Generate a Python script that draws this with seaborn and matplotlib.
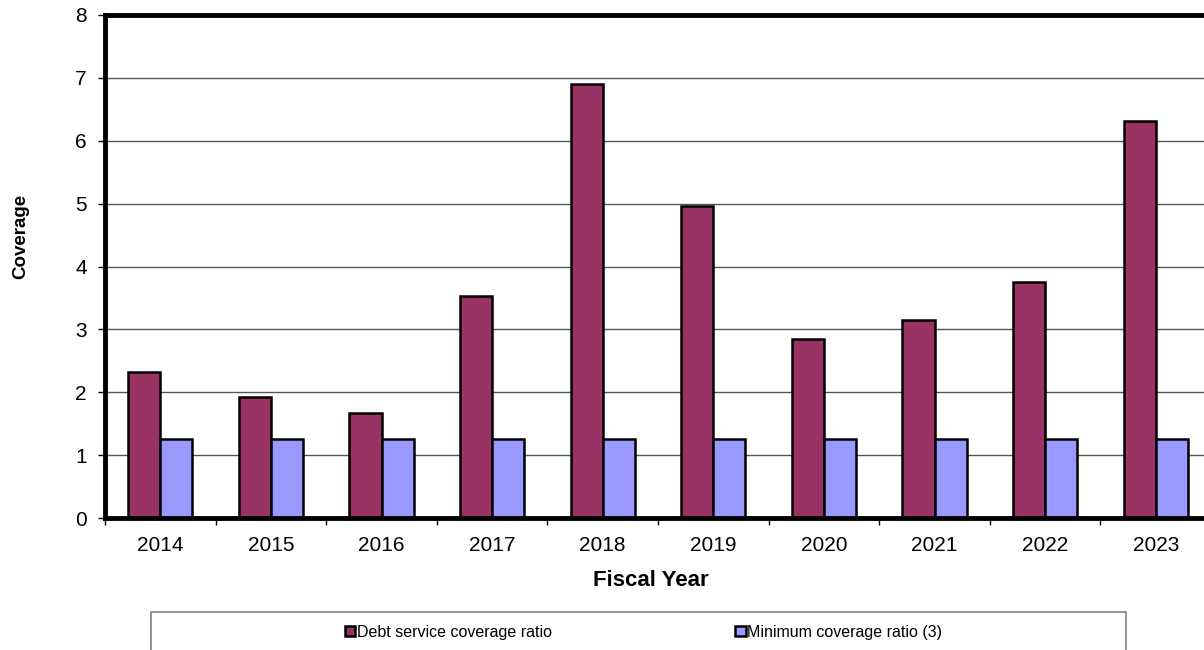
import numpy as np
import pandas as pd
import matplotlib
matplotlib.use("Agg")
import matplotlib.pyplot as plt
import seaborn as sns
from matplotlib.patches import Rectangle

years = ["2014", "2015", "2016", "2017", "2018", "2019", "2020", "2021", "2022", "2023"]
debt_service = [2.32, 1.92, 1.67, 3.53, 6.90, 4.96, 2.85, 3.15, 3.75, 6.31]
min_coverage = [1.25, 1.25, 1.25, 1.25, 1.25, 1.25, 1.25, 1.25, 1.25, 1.25]
series_names = ["Debt service coverage ratio", "Minimum coverage ratio (3)"]
colors = ["#993366", "#9999FF"]

df = pd.DataFrame({
    "year": years * 2,
    "value": debt_service + min_coverage,
    "series": [series_names[0]] * len(years) + [series_names[1]] * len(years),
})

sns.set_style("white")
plt.rcParams["font.family"] = ["Liberation Sans", "DejaVu Sans"]
plt.rcParams["text.color"] = "black"
plt.rcParams["xtick.color"] = "black"
plt.rcParams["ytick.color"] = "black"
plt.rcParams["axes.labelcolor"] = "black"

W, H = 1204, 650
fig = plt.figure(figsize=(W / 100, H / 100), dpi=100)
ax = fig.add_axes([105 / W, 1 - 518 / H, 1106 / W, 503 / H])

sns.barplot(data=df, x="year", y="value", hue="series", palette=colors,
            width=0.58, edgecolor="black", linewidth=1.8, saturation=1,
            ax=ax, legend=True)

ax.set_xlim(-0.5, len(years) - 0.5)
ax.set_ylim(0, 8)
ax.set_yticks(range(0, 9))
ax.set_axisbelow(True)
ax.yaxis.grid(True, color="#555555", linewidth=1)
ax.xaxis.grid(False)

for side in ["left", "top", "bottom", "right"]:
    ax.spines[side].set_visible(True)
    ax.spines[side].set_color("black")
    ax.spines[side].set_linewidth(3.5)

ax.tick_params(axis="y", which="major", left=True, length=5, width=1,
               pad=8, labelsize=15, color="black", labelcolor="black")
ax.tick_params(axis="x", which="major", bottom=True, length=0, pad=13,
               labelsize=15, labelcolor="black")
ax.set_xticks(np.arange(-0.5, len(years), 1.0), minor=True)
ax.tick_params(axis="x", which="minor", bottom=True, length=5, width=1, color="black")

ax.set_xlabel("")
ax.set_ylabel("")
fig.text(651 / W, 1 - 580 / H, "Fiscal Year", ha="center", va="center",
         fontsize=16, fontweight="bold", color="black")
fig.text(21 / W, 1 - 236 / H, "Coverage", ha="center", va="center",
         rotation=90, fontsize=13.5, fontweight="bold", color="black")

handles, labels = ax.get_legend_handles_labels()
ax.get_legend().remove()
leg = fig.legend(handles, labels, loc="center", bbox_to_anchor=(643.5 / W, 1 - 632 / H),
                 frameon=False, ncol=2, fontsize=11.5, handlelength=0.65,
                 handleheight=0.65, handletextpad=0.1, columnspacing=11.5)
for t in leg.get_texts():
    t.set_color("black")

fig.patches.append(Rectangle((151 / W, 1 - 700 / H), (1126 - 151) / W, (700 - 612) / H,
                             transform=fig.transFigure, fill=False,
                             edgecolor="#808080", linewidth=1.2))

fig.savefig("out.png", dpi=100)
